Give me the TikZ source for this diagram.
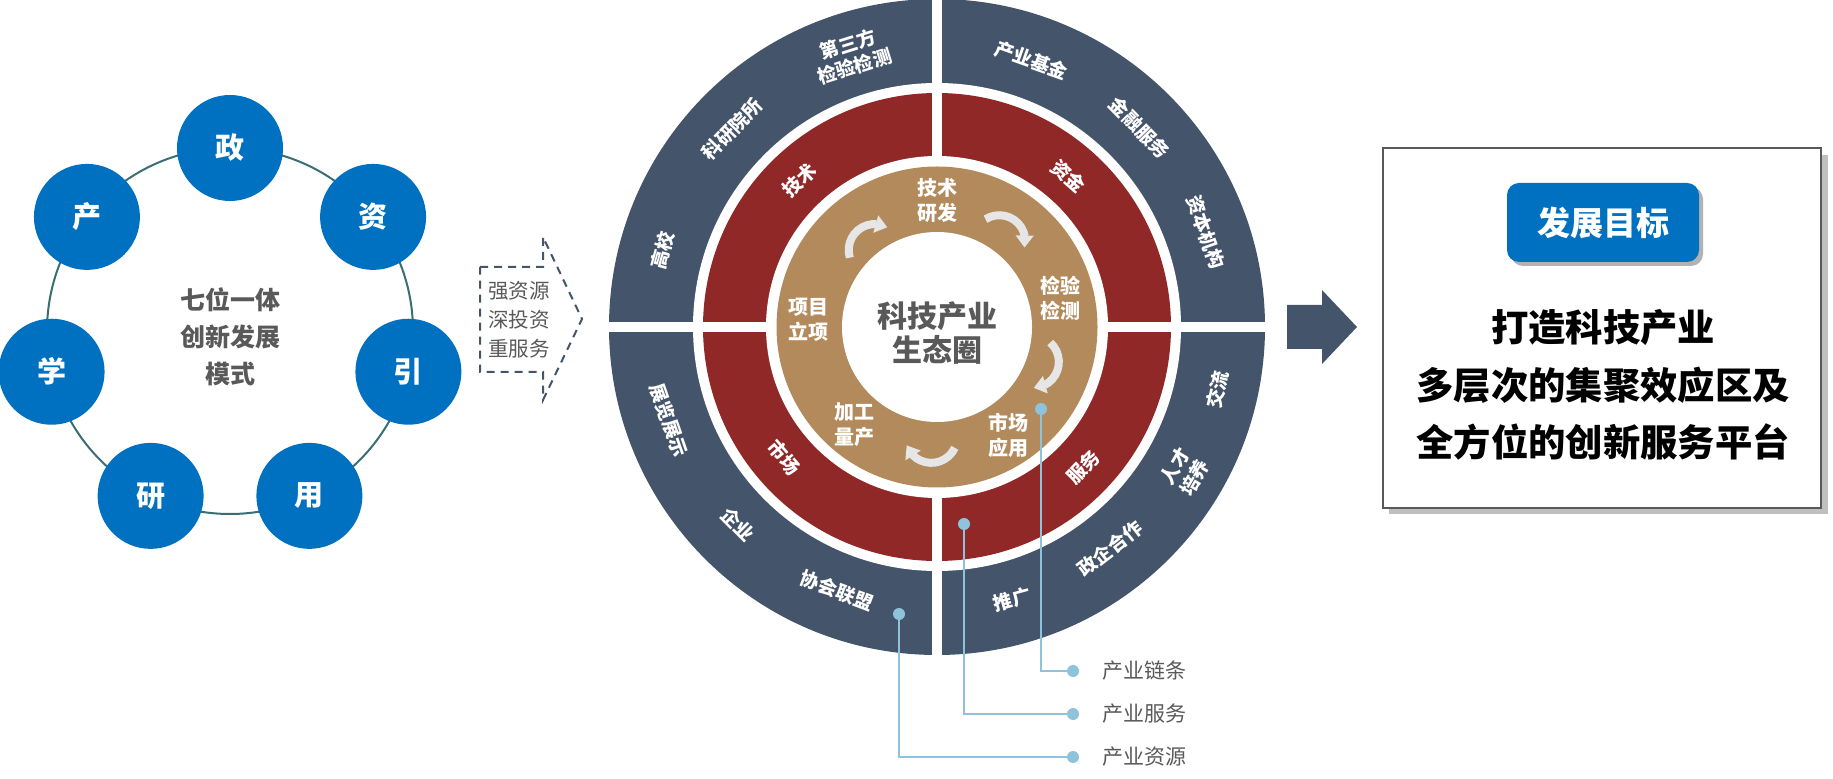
\documentclass[tikz,border=0pt]{standalone}
\usepackage{fontspec}
\setmainfont{Noto Sans CJK SC}
\usetikzlibrary{arrows.meta,bending}

\definecolor{slate}{HTML}{44546A}
\definecolor{rust}{HTML}{912828}
\definecolor{sand}{HTML}{B38A5C}
\definecolor{govblue}{HTML}{0070C0}
\definecolor{textgray}{HTML}{595959}
\definecolor{loopgray}{HTML}{E7E6E6}
\definecolor{callblue}{HTML}{8DC3DB}
\definecolor{ringteal}{HTML}{3A6E72}

\begin{document}
\begin{tikzpicture}[x=0.75pt,y=0.75pt,
  member/.style={circle,fill=govblue,text=white,minimum size=79.5pt,inner sep=0pt,font=\bfseries\fontsize{21.75}{24}\selectfont},
  ringlabel/.style={text=white,align=center,inner sep=0pt,font=\bfseries\fontsize{14.25}{17}\selectfont},
  innerlabel/.style={text=white,align=center,inner sep=0pt,font=\bfseries\fontsize{15}{18.75}\selectfont},
  looparrow/.style={loopgray,line width=6pt,-{Triangle[width=13pt,length=9pt,flex]}},
  callout/.style={callblue,line width=1.5pt},
  calldot/.style={circle,fill=callblue,minimum size=9pt,inner sep=0pt},
  calltext/.style={text=textgray,anchor=west,inner sep=0pt,font=\fontsize{15.75}{18}\selectfont}
]
\useasboundingbox (0,0) rectangle (1833,778);

% seven members
\begin{scope}[shift={(230,447)}]
\draw[ringteal,line width=1.5pt] (0,0) circle[radius=183];
\node[member] (zheng) at (90:183) {政};
\node[member] (zi) at (38.57:183) {资};
\node[member] (yin) at (-12.86:183) {引};
\node[member] (yong) at (-64.29:183) {用};
\node[member] (yan) at (-115.71:183) {研};
\node[member] (xue) at (-167.14:183) {学};
\node[member] (chan) at (141.43:183) {产};
\node[text=textgray,align=center,font=\bfseries\fontsize{18.75}{27.75}\selectfont] (mode) at (0,-6) {七位一体\\创新发展\\模式};
\end{scope}

\draw[slate,line width=1.5pt,dash pattern=on 6pt off 4.5pt] (480,511) -- (543,511) -- (543,541) -- (582,459) -- (543,378) -- (543,406) -- (480,406) -- cycle;
\node[text=textgray,align=center,font=\fontsize{15.4}{21.75}\selectfont] (triad) at (519,458) {强资源\\深投资\\重服务};

% ecosystem rings
\begin{scope}[shift={(937,451)}]
\fill[slate] (0,0) circle[radius=328];
\fill[white] (0,0) circle[radius=244];
\fill[rust] (0,0) circle[radius=234];
\draw[white,line width=8pt] (-335,0) -- (335,0);
\draw[white,line width=8pt] (0,-335) -- (0,335);
\fill[white] (0,0) circle[radius=171];
\fill[sand] (0,0) circle[radius=160.5];
\fill[white] (0,0) circle[radius=95];

\node[ringlabel,rotate=74.4] (gaoxiao) at (164.4:285) {高校};
\node[ringlabel,rotate=46] (keyan) at (136:285) {科研院所};
\node[ringlabel,rotate=17.5] (jiance) at (107.5:285) {第三方\\检验检测};
\node[ringlabel,rotate=-19.5] (jijin) at (70.5:283) {产业基金};
\node[ringlabel,rotate=-45.5] (jinrong) at (44.5:284) {金融服务};
\node[ringlabel,rotate=-70.5] (ziben) at (19.5:285) {资本机构};
\node[ringlabel,rotate=-70.8] (zhanlan) at (199.2:284) {展览展示};
\node[ringlabel,rotate=-45.2] (qiye) at (224.8:280) {企业};
\node[ringlabel,rotate=-20.8] (xiehui) at (249.2:282) {协会联盟};
\node[ringlabel,rotate=15.4] (tuiguang) at (285.4:283) {推广};
\node[ringlabel,rotate=37.9] (zhengqi) at (307.9:281) {政企合作};
\node[ringlabel,rotate=59.7] (rencai) at (329.7:287) {人才\\培养};
\node[ringlabel,rotate=77.4] (jiaoliu) at (347.4:287) {交流};

\node[ringlabel,rotate=43] (jishu) at (133:201) {技术};
\node[ringlabel,rotate=-41.1] (zijin) at (48.9:200) {资金};
\node[ringlabel,rotate=-49.6] (shichang) at (220.4:201) {市场};
\node[ringlabel,rotate=46.3] (fuwu) at (316.3:203) {服务};

\node[innerlabel] (yanfa) at (0.5,127) {技术\\研发};
\node[innerlabel] (jianyan) at (123.5,29) {检验\\检测};
\node[innerlabel] (yingyong) at (71,-108) {市场\\应用};
\node[innerlabel] (liangchan) at (-83,-98) {加工\\量产};
\node[innerlabel] (lixiang) at (-129,7) {项目\\立项};
\node[text=textgray,align=center,font=\bfseries\fontsize{22.5}{26}\selectfont] (eco) at (0,-6) {科技产业\\生态圈};

\draw[looparrow,shift={(129:99)}] (197:26) arc[start angle=197,end angle=61,radius=26];
\draw[looparrow,shift={(54:106)}] (122:26) arc[start angle=122,end angle=-14,radius=26];
\draw[looparrow,shift={(-20:102)}] (48:26) arc[start angle=48,end angle=-88,radius=26];
\draw[looparrow,shift={(-93:110)}] (-25:26) arc[start angle=-25,end angle=-161,radius=26];
\end{scope}

\fill[slate] (1287,429) -- (1322,429) -- (1322,414) -- (1357,451) -- (1322,488) -- (1322,473) -- (1287,473) -- cycle;

% goal box
\fill[black!25] (1389,264) rectangle (1828,623);
\draw[textgray,line width=2pt,fill=white] (1383,270) rectangle (1821,630);
\fill[black!30,rounded corners=9pt] (1511,512) rectangle (1703,591);
\node[fill=govblue,rounded corners=9pt,minimum width=144pt,minimum height=59.25pt,text=white,font=\bfseries\fontsize{24.75}{28}\selectfont] (goal) at (1603,555.5) {发展目标};
\node[text=black,align=center,font=\bfseries\fontsize{28}{43}\selectfont] (aim) at (1603,393) {打造科技产业\\多层次的集聚效应区及\\全方位的创新服务平台};

% callouts
\node[calldot] (dchain) at (1041,369) {};
\node[calldot] (dserv) at (964,254) {};
\node[calldot] (dres) at (899,164) {};
\node[calldot] (lchain) at (1073,107) {};
\node[calldot] (lserv) at (1073,64) {};
\node[calldot] (lres) at (1073,21) {};
\draw[callout] (dchain) |- (lchain);
\draw[callout] (dserv) |- (lserv);
\draw[callout] (dres) |- (lres);
\node[calltext] (tchain) at (1102,107) {产业链条};
\node[calltext] (tserv) at (1102,64) {产业服务};
\node[calltext] (tres) at (1102,21) {产业资源};

\end{tikzpicture}
\end{document}
